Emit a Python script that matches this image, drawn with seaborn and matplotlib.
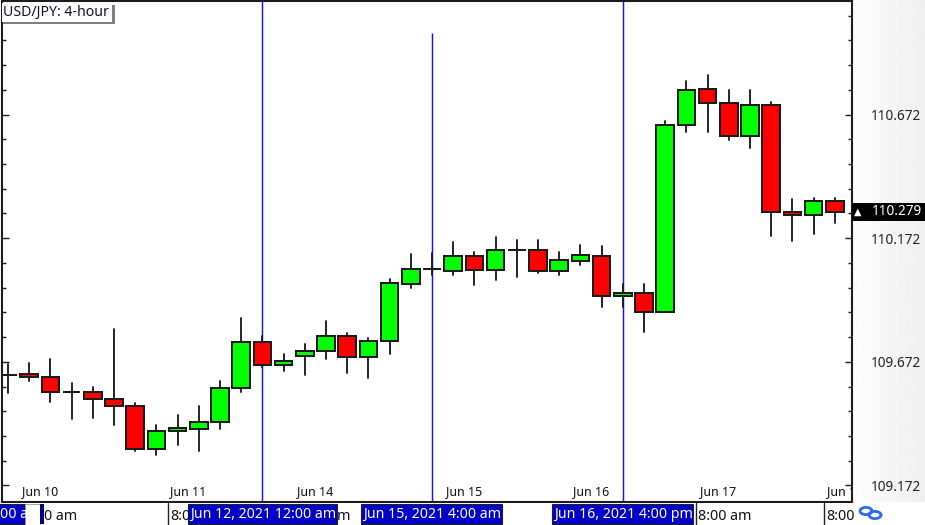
import numpy as np
import pandas as pd
import matplotlib
matplotlib.use("Agg")
import matplotlib.pyplot as plt
from matplotlib.patches import Rectangle
from matplotlib.transforms import blended_transform_factory
import seaborn as sns

opens = [109.619,109.623,109.612,109.550,109.551,109.521,109.493,109.319,109.392,109.400,
         109.428,109.566,109.752,109.659,109.695,109.716,109.776,109.691,109.756,109.987,
         110.047,110.039,110.100,110.043,110.124,110.124,110.039,110.080,110.100,109.938,
         109.950,109.873,110.629,110.775,110.718,110.585,110.710,110.278,110.266,110.322]
highs = [109.663,109.667,109.683,109.586,109.570,109.805,109.505,109.416,109.457,109.493,
         109.594,109.849,109.776,109.703,109.744,109.837,109.788,109.768,110.007,110.108,
         110.112,110.156,110.116,110.177,110.164,110.164,110.116,110.144,110.140,109.987,
         109.987,110.646,110.807,110.832,110.771,110.771,110.723,110.330,110.334,110.334]
lows = [109.546,109.594,109.509,109.441,109.445,109.416,109.311,109.295,109.335,109.311,
        109.400,109.550,109.651,109.635,109.619,109.683,109.627,109.606,109.703,109.970,
        110.023,110.023,109.982,110.003,110.015,110.031,110.023,110.063,109.894,109.894,
        109.792,109.873,110.601,110.601,110.569,110.536,110.181,110.160,110.189,110.233]
closes = [109.619,109.612,109.551,109.550,109.521,109.493,109.319,109.392,109.404,109.428,
          109.566,109.752,109.659,109.675,109.716,109.776,109.691,109.756,109.991,110.047,
          110.047,110.100,110.043,110.124,110.124,110.039,110.084,110.104,109.938,109.950,
          109.873,110.629,110.771,110.718,110.585,110.710,110.278,110.266,110.322,110.278]

major_prices = [109.172, 109.672, 110.172, 110.672]
minor_prices = [109.272,109.372,109.472,109.572,109.772,109.872,109.972,110.072,
                110.272,110.372,110.472,110.572,110.772,110.872,110.972,111.072]
price_labels = ["109.172", "109.672", "110.172", "110.672"]
date_ticks = [1.5, 8.5, 14.5, 21.5, 27.5, 33.5, 39.5]
date_labels = ["Jun 10", "Jun 11", "Jun 14", "Jun 15", "Jun 16", "Jun 17", "Jun 18"]
event_bars = [12, 20, 29]
event_tops = [111.14, 111.00, 111.14]
last_price = 110.279
last_label = "110.279"
title = "USD/JPY: 4-hour"

FONT = "Noto Sans"
W, H = 925, 525
sns.set_style("white")
plt.rcParams["font.family"] = [FONT, "DejaVu Sans"]
fig = plt.figure(figsize=(W / 100, H / 100), dpi=100, facecolor="white")

def px_axes(z):
    a = fig.add_axes([0, 0, 1, 1], zorder=z)
    a.set_xlim(0, W); a.set_ylim(H, 0); a.axis("off"); a.patch.set_alpha(0)
    return a

bg = px_axes(0)
grad = np.linspace(0.995, 0.935, 64).reshape(1, -1)
bg.imshow(grad, extent=[852, 925, 502, 0], cmap="gray", vmin=0, vmax=1, aspect="auto")
bg.set_xlim(0, W); bg.set_ylim(H, 0)

ax = fig.add_axes([1.5 / W, 1 - 502 / H, (852 - 1.5) / W, 501 / H], zorder=1, facecolor="white")
ink = "#1c1c1c"

n = len(opens)
idx = np.arange(n)
o, h, l, c = map(np.array, (opens, highs, lows, closes))

for b, top_price in zip(event_bars, event_tops):
    ax.vlines(b, 100, top_price, color="#1414ff", lw=1.05, zorder=1)

wicks = pd.DataFrame({
    "candle": np.r_[idx, idx],
    "x": np.r_[idx, idx],
    "price": np.r_[h, l],
})
sns.lineplot(data=wicks, x="x", y="price", units="candle", estimator=None, sort=False,
             color=ink, lw=1.35, ax=ax, legend=False, zorder=2)

colors = ["#00ff00" if cc > oo else "#ff0000" for oo, cc in zip(o, c)]
ax.bar(idx, c - o, bottom=o, width=0.83, color=colors, edgecolor=ink, linewidth=1.45, zorder=3)

ax.set_xlim(-0.307, 39.81)
ax.set_ylim(109.105, 111.131)
ax.set_xlabel(""); ax.set_ylabel("")

ax.set_yticks(major_prices, labels=price_labels)
ax.set_yticks(minor_prices, minor=True)
ax.tick_params(axis="y", which="major", direction="in", left=True, right=True, labelleft=False,
               labelright=True, length=5, width=1, color=ink, pad=13.5, labelsize=9.8, labelcolor="#222222")
ax.tick_params(axis="y", which="minor", direction="in", left=True, right=True, length=2.8, width=1, color=ink)
ax.set_xticks(date_ticks, labels=date_labels)
ax.tick_params(axis="x", length=0, pad=-12.5, labelsize=9, labelcolor="#111111")
for lab in ax.get_xticklabels():
    lab.set_clip_box(ax.bbox)
    lab.set_clip_on(True)
for s in ax.spines.values():
    s.set_visible(True); s.set_color(ink); s.set_linewidth(1.5)

# last price flag, placed on the price scale
tr = blended_transform_factory(ax.transAxes, ax.transData)
ax.add_patch(Rectangle((1.0, last_price - 0.037), 73 / 850.5, 0.074, transform=tr, clip_on=False,
                       facecolor="black", edgecolor="none", zorder=5))
ax.text(1 + 19.5 / 850.5, last_price, last_label, transform=tr, color="white", fontsize=9.8,
        va="center", ha="left", zorder=6, clip_on=False)
ax.text(1 + 5.5 / 850.5, last_price, "\u25B2", transform=tr, color="white", fontsize=7,
        va="center", ha="center", zorder=6, clip_on=False, family="DejaVu Sans")

# chrome drawn in pixel space
top = px_axes(2)
top.add_patch(Rectangle((3, 5), 112, 19, facecolor="#808080", edgecolor="none"))
top.add_patch(Rectangle((2, 3), 110, 19, facecolor="white", edgecolor="none"))
top.text(3, 12.5, title, fontsize=10.2, color="#111133", va="center", ha="left")

BLUE = "#0000c8"
top.add_patch(Rectangle((0, 503), W, 22, facecolor="white", edgecolor="none"))
def tag(x0, x1, text, tx=None):
    top.add_patch(Rectangle((x0, 504), x1 - x0, 20, facecolor=BLUE, edgecolor="#222222", lw=0.8))
    top.text((x0 + 3) if tx is None else tx, 514.5, text, color="white", fontsize=10.2, va="center", ha="left")
def plain(x, text):
    top.text(x, 516, text, color="#111111", fontsize=10.2, va="center", ha="left")
def sep(x):
    top.plot([x, x], [503, 525], color="#222222", lw=1)

plain(44, "0 am")
plain(170, "8:0")
plain(337, "m")
plain(698, "8:00 am")
plain(826, "8:00")
sep(168); sep(696); sep(824)
tag(-3, 24.5, "00 a", tx=0.5)
top.add_patch(Rectangle((25, 504), 15, 21, facecolor="white", edgecolor="#999999", lw=0.6))
top.add_patch(Rectangle((40, 504), 4, 20, facecolor="#000088", edgecolor="none"))
tag(188, 337, "Jun 12, 2021 12:00 am", tx=190)
tag(361, 502, "Jun 15, 2021 4:00 am", tx=363)
tag(552, 693, "Jun 16, 2021 4:00 pm", tx=554)

# link icon
t = np.linspace(0, 2 * np.pi, 60)
for cx, cy in ((866, 511), (875, 515)):
    top.plot(cx + 6 * np.cos(t), cy + 3.6 * np.sin(t), color="#2a6af0", lw=2)

top.set_xlim(0, W); top.set_ylim(H, 0)
fig.savefig("out.png", dpi=100)
